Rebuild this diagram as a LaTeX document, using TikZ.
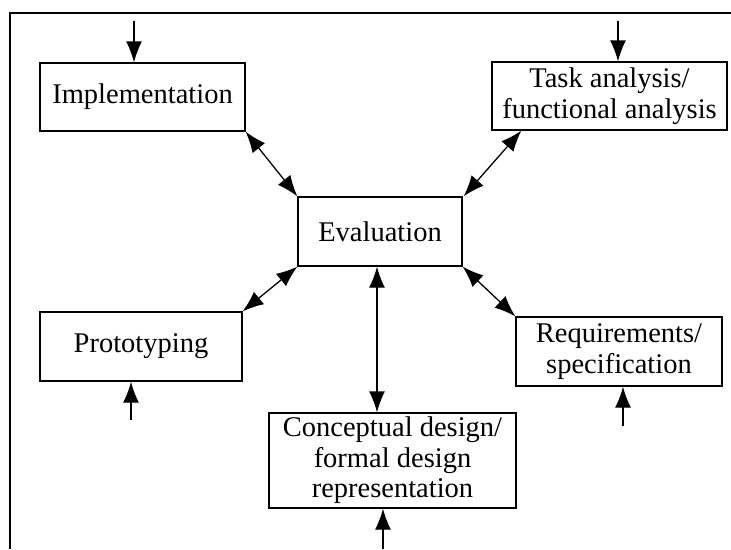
\documentclass[tikz,border=0pt]{standalone}
\usepackage{fontspec}
\setmainfont{Liberation Serif}
\usetikzlibrary{arrows.meta}

\begin{document}
\begin{tikzpicture}[x=1pt,y=-1pt,line width=1.3pt,
    stage/.style={draw,inner sep=0pt,align=center,font=\fontsize{28.5}{30.5}\selectfont},
    link/.style={{Latex[length=21pt,width=16pt]}-{Latex[length=21pt,width=16pt]}},
    feed/.style={-{Latex[length=21pt,width=16pt]}}]
        \useasboundingbox (0,0) rectangle (731,549);
        \draw[line width=2pt] (10,549) -- (10,13) -- (731,13);
        \node[stage,minimum width=164pt,minimum height=69pt] (eval) at (380,231.5) {Evaluation};
        \node[stage,minimum width=205pt,minimum height=68pt] (impl) at (142.5,97) {Implementation};
        \node[stage,minimum width=235pt,minimum height=68pt] (task) at (609.5,96) {Task analysis/\\functional analysis};
        \node[stage,minimum width=202pt,minimum height=69pt] (proto) at (141,346.5) {Prototyping};
        \node[stage,minimum width=206pt,minimum height=69pt] (req) at (619,351.5) {Requirements/\\specification};
        \node[stage,minimum width=247pt,minimum height=95pt] (concept) at (392.5,460.5) {Conceptual design/\\formal design\\representation};
        \coordinate (implin) at (134,21);
        \coordinate (taskin) at (618,21);
        \coordinate (protoin) at (131,420);
        \coordinate (reqin) at (623,426);
        \coordinate (conceptin) at (383,549);
        \draw[link] (impl.south east) -- (eval.north west);
        \draw[link] (task.south west) ++(30,0) -- ([xshift=1pt]eval.north east);
        \draw[link] (proto.north east) -- (eval.south west);
        \draw[link] (req.north west) -- (eval.south east);
        \draw[link] (eval.south -| 377,0) -- (concept.north -| 377,0);
        \draw[feed] (implin) -- (impl.north -| implin);
        \draw[feed] (taskin) -- (task.north -| taskin);
        \draw[feed] (protoin) -- (proto.south -| protoin);
        \draw[feed] (reqin) -- (req.south -| reqin);
        \draw[feed] (conceptin) -- (concept.south -| conceptin);
      \end{tikzpicture}
\end{document}
